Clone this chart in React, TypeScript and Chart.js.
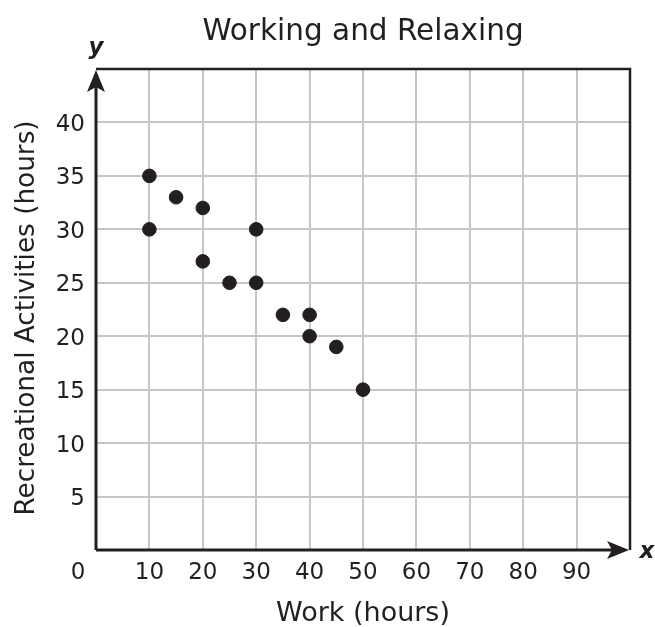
import React, { useEffect, useRef } from "react";
import { Chart, registerables } from "chart.js";

Chart.register(...registerables);

const title = "Working and Relaxing";
const xTitle = "Work (hours)";
const yTitle = "Recreational Activities (hours)";
const workHours = [10, 15, 20, 10, 30, 20, 25, 30, 35, 40, 40, 45, 50];
const recreationHours = [35, 33, 32, 30, 30, 27, 25, 25, 22, 22, 20, 19, 15];
const xTickLabels = [10, 20, 30, 40, 50, 60, 70, 80, 90];
const yTickLabels = [5, 10, 15, 20, 25, 30, 35, 40];

const FONT = "'DejaVu Sans', Verdana, sans-serif";
const INK = "#231f20";

const overlay = {
  id: "overlay",
  beforeDatasetsDraw(chart: any) {
    const { ctx, chartArea } = chart;
    const { left, right, top, bottom } = chartArea;
    ctx.save();
    ctx.strokeStyle = INK;
    ctx.fillStyle = INK;
    ctx.lineWidth = 2.5;
    ctx.beginPath();
    ctx.moveTo(left, top);
    ctx.lineTo(right, top);
    ctx.lineTo(right, bottom);
    ctx.stroke();
    ctx.lineWidth = 3;
    ctx.beginPath();
    ctx.moveTo(left, bottom);
    ctx.lineTo(left, top + 14);
    ctx.moveTo(left, bottom);
    ctx.lineTo(right - 14, bottom);
    ctx.stroke();
    ctx.beginPath();
    ctx.moveTo(left, top + 1);
    ctx.lineTo(left - 9, top + 23);
    ctx.lineTo(left, top + 18);
    ctx.lineTo(left + 9, top + 23);
    ctx.closePath();
    ctx.fill();
    ctx.beginPath();
    ctx.moveTo(right - 1, bottom);
    ctx.lineTo(right - 23, bottom - 9);
    ctx.lineTo(right - 18, bottom);
    ctx.lineTo(right - 23, bottom + 9);
    ctx.closePath();
    ctx.fill();
    ctx.restore();
  },
  afterDraw(chart: any) {
    const { ctx, chartArea, scales } = chart;
    const { left, right, bottom } = chartArea;
    ctx.save();
    ctx.fillStyle = INK;
    ctx.font = `23px ${FONT}`;
    ctx.textBaseline = "alphabetic";
    ctx.textAlign = "center";
    xTickLabels.forEach((v) => {
      ctx.fillText(String(v), scales.x.getPixelForValue(v), bottom + 29);
    });
    ctx.fillText("0", left - 18, bottom + 29);
    ctx.textAlign = "right";
    yTickLabels.forEach((v) => {
      ctx.fillText(String(v), left - 11, scales.y.getPixelForValue(v) + 8.5);
    });
    ctx.textAlign = "center";
    ctx.font = `29.5px ${FONT}`;
    ctx.fillText(title, (left + right) / 2, 40);
    ctx.font = `27px ${FONT}`;
    ctx.fillText(xTitle, (left + right) / 2, 621);
    ctx.save();
    ctx.translate(34, 318);
    ctx.rotate(-Math.PI / 2);
    ctx.font = `26.3px ${FONT}`;
    ctx.fillText(yTitle, 0, 0);
    ctx.restore();
    ctx.textBaseline = "middle";
    ctx.font = `italic bold 23px ${FONT}`;
    ctx.fillText("y", left, 48);
    ctx.fillText("x", right + 17, bottom + 2);
    ctx.restore();
  },
};

export default function App() {
  const ref = useRef<HTMLCanvasElement>(null);
  useEffect(() => {
    document.body.style.margin = "0";
    const chart = new Chart(ref.current!, {
      type: "scatter",
      data: {
        datasets: [
          {
            data: workHours.map((x, i) => ({ x, y: recreationHours[i] })),
            backgroundColor: INK,
            borderColor: INK,
            pointRadius: 6.8,
            pointHoverRadius: 6.8,
          },
        ],
      },
      options: {
        animation: false,
        responsive: false,
        devicePixelRatio: 1,
        layout: { padding: { left: 96, right: 25, top: 69, bottom: 77 } },
        plugins: { legend: { display: false }, tooltip: { enabled: false }, title: { display: false } },
        scales: {
          x: {
            type: "linear",
            min: 0,
            max: 100,
            ticks: { display: false, stepSize: 10, padding: 0 },
            border: { display: false },
            grid: {
              drawTicks: false,
              lineWidth: 2,
              color: (c: any) => (c.tick && (c.tick.value === 0 || c.tick.value === 100) ? "rgba(0,0,0,0)" : "#c6c6ca"),
            },
          },
          y: {
            type: "linear",
            min: 0,
            max: 45,
            ticks: { display: false, stepSize: 5, padding: 0 },
            border: { display: false },
            grid: {
              drawTicks: false,
              lineWidth: 2,
              color: (c: any) => (c.tick && (c.tick.value === 0 || c.tick.value === 45) ? "rgba(0,0,0,0)" : "#c6c6ca"),
            },
          },
        },
      },
      plugins: [overlay],
    });
    return () => chart.destroy();
  }, []);
  return (
    <div style={{ width: 655, height: 627, background: "#fff" }}>
      <canvas ref={ref} width={655} height={627} />
    </div>
  );
}
